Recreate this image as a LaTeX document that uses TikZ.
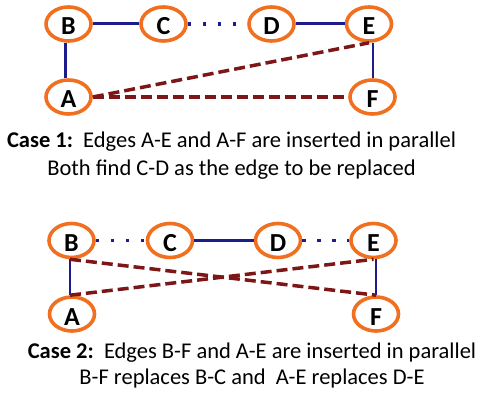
\documentclass[tikz,border=0pt]{standalone}
\usepackage{fontspec}
\setmainfont{Carlito}
\usetikzlibrary{shapes.geometric}
\definecolor{ringorange}{RGB}{240,112,32}
\definecolor{edgeblue}{RGB}{28,28,140}
\definecolor{newred}{RGB}{125,22,22}
\tikzset{
  vtx/.style={ellipse, draw=ringorange, line width=3.6pt, fill=white,
    minimum width=45pt, minimum height=34pt, inner sep=0pt,
    text height=22pt, text depth=0pt,
    font=\fontsize{26}{28}\selectfont\bfseries},
  treeedge/.style={draw=edgeblue, line width=3pt},
  sideedge/.style={draw=edgeblue, line width=2.2pt},
  dropped/.style={draw=edgeblue, line width=3.2pt, dash pattern=on 3.2pt off 11.8pt},
  inserted/.style={draw=newred, line width=3.5pt, dash pattern=on 11pt off 5pt},
  caption/.style={align=center, font=\fontsize{22.5}{28}\selectfont}
}
\begin{document}
\begin{tikzpicture}[x=1pt,y=-1pt]
\useasboundingbox (0,0) rectangle (479,393);

% ---- Case 1 ----
\node[vtx] (B1) at (68.5,24) {B};
\node[vtx] (C1) at (163.5,24) {C};
\node[vtx] (D1) at (271.5,24) {D};
\node[vtx] (E1) at (369,24) {E};
\node[vtx] (A1) at (68.5,97) {A};
\node[vtx] (F1) at (372.5,97) {F};

\draw[treeedge] (B1.east) -- (C1.west);
\draw[dropped] (C1.east) -- (D1.west);
\draw[treeedge] (D1.east) -- (E1.west);
\draw[sideedge] ([xshift=-3pt]B1.south) -- ([xshift=-3pt]A1.north);
\draw[sideedge] ([xshift=4pt]E1.south) -- ([xshift=0.5pt]F1.north);
\draw[inserted] (A1.east) -- (E1.south);
\draw[inserted] (A1.east) -- (F1.west);

\node[caption] (cap1) at (231.5,156) {\textbf{Case 1:}\ \ Edges A-E and A-F are inserted in parallel\\Both find C-D as the edge to be replaced};

% ---- Case 2 ----
\node[vtx] (B2) at (71.5,240.5) {B};
\node[vtx] (C2) at (170,240.5) {C};
\node[vtx] (D2) at (278,240.5) {D};
\node[vtx] (E2) at (373.5,240.5) {E};
\node[vtx] (A2) at (72,314) {A};
\node[vtx] (F2) at (376,314) {F};

\draw[dropped] (B2.east) -- (C2.west);
\draw[treeedge] (C2.east) -- (D2.west);
\draw[dropped] (D2.east) -- (E2.west);
\draw[sideedge] ([xshift=-1.5pt]B2.south) -- ([xshift=-2pt]A2.north);
\draw[sideedge] ([xshift=2.5pt]E2.south) -- (F2.north);
\draw[inserted] ([xshift=-1.5pt]B2.south) -- (F2.north);
\draw[inserted] ([xshift=-2pt]A2.north) -- (E2.south);

\node[caption, font=\fontsize{22.5}{26}\selectfont] (cap2) at (252,365) {\textbf{Case 2:}\ \ Edges B-F and A-E are inserted in parallel\\B-F replaces B-C and\ \ A-E replaces D-E};
\end{tikzpicture}
\end{document}
